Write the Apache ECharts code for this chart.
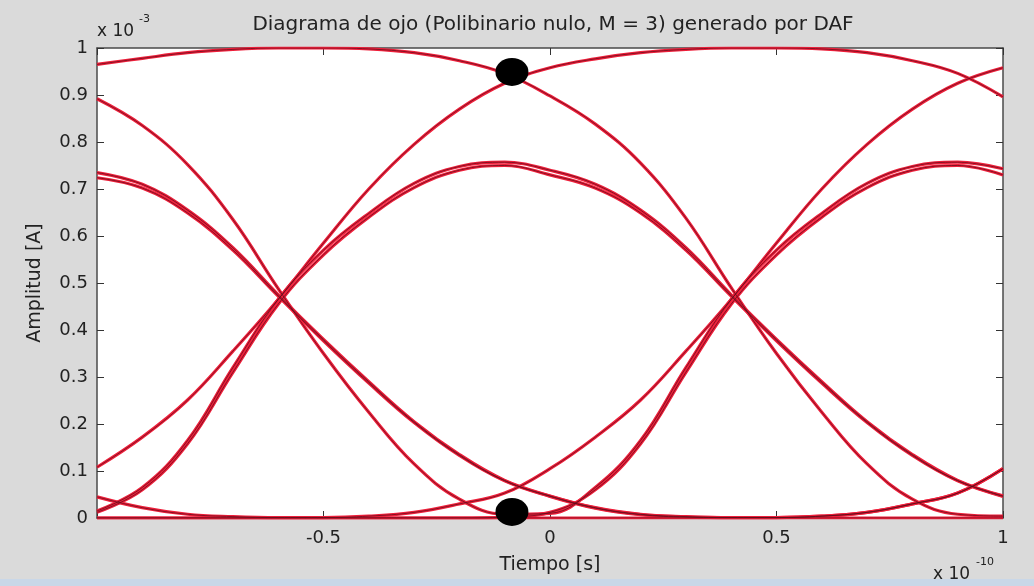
<!DOCTYPE html>
<html>
<head>
<meta charset="utf-8">
<script src="https://cdn.jsdelivr.net/npm/echarts/dist/echarts.min.js"></script>
<style>
  html, body { margin: 0; padding: 0; background: #dadada; }
  #chart { width: 1034px; height: 586px; }
</style>
</head>
<body>
<div id="chart"></div>
<script>
// time axis samples (x 1e-10 s)
const timeTicks = [-1, -0.9, -0.8, -0.7, -0.6, -0.5, -0.4, -0.3, -0.2, -0.1, 0,
                   0.1, 0.2, 0.3, 0.4, 0.5, 0.6, 0.7, 0.8, 0.9, 1];

// eye traces, amplitude (x 1e-3 A)
const traceTopDown   = [0.965, 0.978, 0.99, 0.997, 1.0, 1.0, 0.998, 0.99, 0.973, 0.946, 0.898,
                        0.838, 0.755, 0.638, 0.49, 0.35, 0.225, 0.115, 0.04, 0.008, 0.004];
const traceSteepArch = [0.892, 0.835, 0.752, 0.635, 0.488, 0.35, 0.225, 0.115, 0.04, 0.008, 0.01,
                        0.065, 0.165, 0.32, 0.465, 0.57, 0.648, 0.712, 0.748, 0.757, 0.743];
const traceMidLow    = [0.735, 0.71, 0.655, 0.575, 0.475, 0.38, 0.29, 0.205, 0.135, 0.08, 0.047,
                        0.022, 0.008, 0.003, 0.001, 0.001, 0.004, 0.012, 0.03, 0.053, 0.105];
const traceMidLow2   = [0.724, 0.702, 0.649, 0.57, 0.472, 0.377, 0.287, 0.203, 0.133, 0.079, 0.046,
                        0.021, 0.007, 0.002, 0.001, 0.001, 0.004, 0.012, 0.03, 0.053, 0.105];
const traceUpTop     = [0.108, 0.172, 0.251, 0.355, 0.465, 0.585, 0.70, 0.795, 0.87, 0.925, 0.958,
                        0.977, 0.99, 0.997, 1.0, 1.0, 0.998, 0.99, 0.973, 0.946, 0.896];
const traceArchMid   = [0.015, 0.065, 0.165, 0.32, 0.465, 0.57, 0.648, 0.712, 0.748, 0.757, 0.74,
                        0.71, 0.655, 0.575, 0.475, 0.38, 0.29, 0.205, 0.135, 0.08, 0.047];
const traceArchMid2  = [0.012, 0.06, 0.158, 0.31, 0.455, 0.56, 0.64, 0.703, 0.74, 0.75, 0.73,
                        0.702, 0.649, 0.57, 0.472, 0.377, 0.287, 0.203, 0.133, 0.079, 0.046];
const traceLowUp     = [0.045, 0.022, 0.008, 0.003, 0.001, 0.001, 0.004, 0.012, 0.03, 0.053, 0.105,
                        0.172, 0.251, 0.355, 0.465, 0.585, 0.70, 0.795, 0.87, 0.925, 0.958];
const traceFlatArch  = [0, 0, 0, 0, 0, 0, 0, 0, 0, 0.002, 0.012,
                        0.06, 0.158, 0.31, 0.455, 0.56, 0.64, 0.703, 0.74, 0.75, 0.73];
const traceZero      = [0, 0, 0, 0, 0, 0, 0, 0, 0, 0, 0,
                        0, 0, 0, 0, 0, 0, 0, 0, 0, 0];

// sampling markers
const dotTimes = [-0.084, -0.084];
const dotAmps = [0.949, 0.013];

const traces = [traceTopDown, traceSteepArch, traceMidLow, traceMidLow2, traceUpTop,
                traceArchMid, traceArchMid2, traceLowUp, traceFlatArch, traceZero];

const toPoints = ys => ys.map((y, i) => [timeTicks[i], y]);

const series = [];
traces.forEach(ys => {
    series.push({
        type: 'line', data: toPoints(ys), smooth: 0.4, showSymbol: false, silent: true,
        lineStyle: { color: '#ee1f3a', width: 3.2 }, z: 2
    });
});
traces.forEach(ys => {
    series.push({
        type: 'line', data: toPoints(ys), smooth: 0.4, showSymbol: false, silent: true,
        lineStyle: { color: '#5a0c1a', width: 0.9, opacity: 0.8 }, z: 3
    });
});
series.push({
    type: 'scatter', silent: true, z: 5,
    data: dotTimes.map((t, i) => [t, dotAmps[i]]),
    symbolSize: [33, 28],
    itemStyle: { color: '#000', opacity: 1 }
});

const font = 'DejaVu Sans';
const axisLine = { show: true, onZero: false, lineStyle: { color: '#4a4a4a', width: 1.5 } };
const tick = { show: true, inside: true, length: 7, lineStyle: { color: '#333' } };

const myChart = echarts.init(document.getElementById('chart'));
myChart.setOption({
    animation: false,
    backgroundColor: '#dadada',
    title: {
        text: 'Diagrama de ojo (Polibinario nulo, M = 3) generado por DAF',
        left: 548, top: 10, textAlign: 'center',
        textStyle: { fontFamily: font, fontSize: 20, fontWeight: 'normal', color: '#222' }
    },
    grid: { left: 97, right: 31, top: 48, bottom: 68, show: true, backgroundColor: '#ffffff', borderWidth: 0 },
    xAxis: [{
        type: 'value', min: -1, max: 1, interval: 0.5, position: 'bottom',
        axisLine: axisLine, axisTick: tick, splitLine: { show: false },
        axisLabel: {
            fontFamily: font, fontSize: 18, color: '#222', margin: 11,
            formatter: v => (v === -1 ? '' : String(v))
        },
        name: 'Tiempo [s]', nameLocation: 'middle', nameGap: 38,
        nameTextStyle: { fontFamily: font, fontSize: 19, color: '#222' }
    }, {
        type: 'value', min: -1, max: 1, interval: 0.5, position: 'top',
        axisLine: axisLine, axisTick: tick, splitLine: { show: false },
        axisLabel: { show: false }
    }],
    yAxis: [{
        type: 'value', min: 0, max: 1, interval: 0.1, position: 'left',
        axisLine: axisLine, axisTick: tick, splitLine: { show: false },
        axisLabel: {
            fontFamily: font, fontSize: 18, color: '#222', margin: 9,
            formatter: v => (v === 0 ? '0' : v === 1 ? '1' : v.toFixed(1))
        },
        name: 'Amplitud [A]', nameLocation: 'middle', nameRotate: 90, nameGap: 52,
        nameTextStyle: { fontFamily: font, fontSize: 19, color: '#222' }
    }, {
        type: 'value', min: 0, max: 1, interval: 0.1, position: 'right',
        axisLine: axisLine, axisTick: tick, splitLine: { show: false },
        axisLabel: { show: false }
    }],
    graphic: [
        { type: 'text', left: 97, top: 23, style: { text: 'x 10', fontFamily: font, fontSize: 17, fill: '#222' } },
        { type: 'text', left: 139, top: 14, style: { text: '-3', fontFamily: font, fontSize: 11, fill: '#222' } },
        { type: 'text', left: 933, top: 566, style: { text: 'x 10', fontFamily: font, fontSize: 17, fill: '#222' } },
        { type: 'text', left: 976, top: 557, style: { text: '-10', fontFamily: font, fontSize: 11, fill: '#222' } },
        { type: 'rect', left: 0, top: 579, shape: { width: 1034, height: 7 }, style: { fill: '#c9d7e8' } }
    ],
    series: series
});
</script>
</body>
</html>
